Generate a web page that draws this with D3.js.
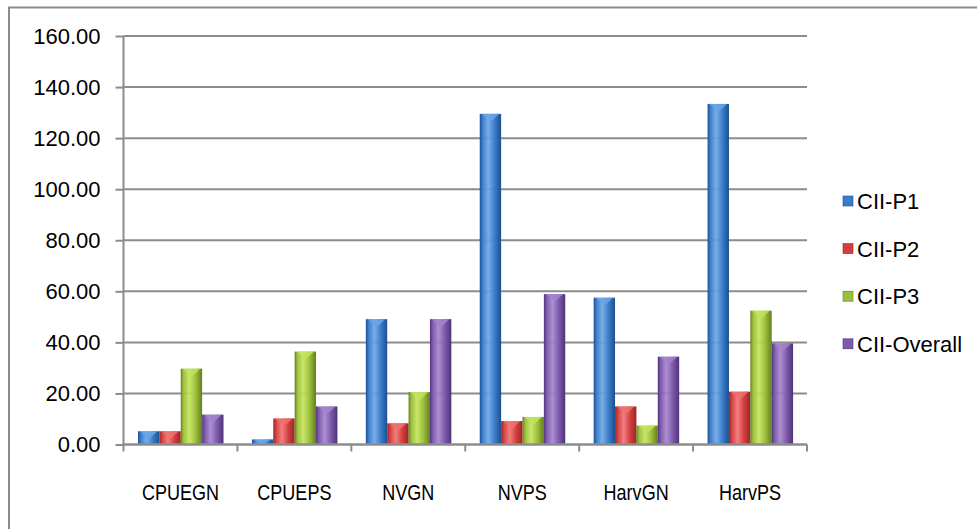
<!DOCTYPE html>
<html>
<head>
<meta charset="utf-8">
<script src="https://cdn.jsdelivr.net/npm/d3@7"></script>
<style>
  html, body { margin: 0; padding: 0; background: #ffffff; }
  svg { display: block; }
  text { font-family: "Liberation Sans", Arial, sans-serif; fill: #000; }
</style>
</head>
<body>
<svg id="chart" width="977" height="529"></svg>
<script>
// Categories along the x axis
const categories = ["CPUEGN", "CPUEPS", "NVGN", "NVPS", "HarvGN", "HarvPS"];

// Series names (legend order)
const seriesNames = ["CII-P1", "CII-P2", "CII-P3", "CII-Overall"];

// Values per series, one per category
const cIIP1 = [5.2, 2.0, 49.1, 129.5, 57.5, 133.4];
const cIIP2 = [5.2, 10.2, 8.3, 9.2, 14.9, 20.7];
const cIIP3 = [29.7, 36.4, 20.5, 10.8, 7.4, 52.4];
const cIIOverall = [11.7, 14.9, 49.1, 58.9, 34.4, 39.6];

// Y axis ticks
const yTicks = [0, 20, 40, 60, 80, 100, 120, 140, 160];

const seriesValues = [cIIP1, cIIP2, cIIP3, cIIOverall];

// Light / mid / dark tones for the cylindrical shading of each series
const palette = [
  { light: "#6aa4e6", mid: "#3b7cc8", dark: "#1d4f8f" },
  { light: "#f07070", mid: "#d33f3f", dark: "#9c2525" },
  { light: "#c3e35a", mid: "#9dbe3d", dark: "#627f1d" },
  { light: "#a283cc", mid: "#7e59ab", dark: "#4e3478" }
];

const svg = d3.select("#chart");
const gridColor = "#8c8c8c";
const fontSize = 22;

// Outer frame
svg.append("path")
  .attr("d", "M9,535 L9,7.5 L985,7.5")
  .attr("fill", "none")
  .attr("stroke", gridColor)
  .attr("stroke-width", 2);

const plot = { left: 123.5, right: 807, top: 36, bottom: 444.5 };

const x0 = d3.scaleBand().domain(categories).range([plot.left, plot.right]).padding(0);
const x1 = d3.scaleBand().domain(seriesNames).range([14.5, 100]).padding(0);
const y = d3.scaleLinear().domain([0, 160]).range([plot.bottom, plot.top]);

// Gradients
const defs = svg.append("defs");
palette.forEach((c, i) => {
  const g = defs.append("linearGradient")
    .attr("id", "bar" + i)
    .attr("x1", "0%").attr("x2", "100%").attr("y1", "0%").attr("y2", "0%");
  g.append("stop").attr("offset", "0%").attr("stop-color", c.dark);
  g.append("stop").attr("offset", "12%").attr("stop-color", c.mid);
  g.append("stop").attr("offset", "40%").attr("stop-color", c.light).attr("stop-opacity", 0.9);
  g.append("stop").attr("offset", "70%").attr("stop-color", c.mid);
  g.append("stop").attr("offset", "100%").attr("stop-color", c.dark);
});

// Tick marks and value labels
const yAxis = d3.axisLeft(y).tickValues(yTicks).tickSize(8).tickFormat(d => d.toFixed(2));
const yG = svg.append("g").attr("transform", `translate(${plot.left},0)`).call(yAxis);
yG.select(".domain").remove();
yG.selectAll(".tick line").attr("stroke", gridColor).attr("stroke-width", 2);
yG.selectAll(".tick text")
  .attr("x", -23)
  .attr("font-size", fontSize)
  .style("font-family", "'Liberation Sans', Arial, sans-serif");

// Horizontal gridlines
svg.append("g").selectAll("line")
  .data(yTicks.filter(d => d > 0))
  .join("line")
  .attr("x1", plot.left).attr("x2", plot.right)
  .attr("y1", d => y(d)).attr("y2", d => y(d))
  .attr("stroke", gridColor).attr("stroke-width", 2);

// Y axis line
svg.append("line")
  .attr("x1", plot.left).attr("x2", plot.left)
  .attr("y1", plot.top).attr("y2", plot.bottom)
  .attr("stroke", gridColor).attr("stroke-width", 2);

// Bars
const groups = svg.append("g").selectAll("g")
  .data(categories)
  .join("g")
  .attr("transform", d => `translate(${x0(d)},0)`);

groups.each(function(cat, ci) {
  const g = d3.select(this);
  seriesNames.forEach((s, si) => {
    const v = seriesValues[si][ci];
    const bx = x1(s);
    const bw = x1.bandwidth();
    const top = y(v);
    const h = y(0) - top;
    g.append("rect")
      .attr("x", bx).attr("y", top)
      .attr("width", bw).attr("height", h)
      .attr("fill", `url(#bar${si})`);
    // top highlight chevron
    const cap = Math.min(8, h);
    g.append("path")
      .attr("d", `M${bx + 2},${top} L${bx + bw - 2},${top} L${bx + bw / 2},${top + cap} Z`)
      .attr("fill", palette[si].light)
      .attr("opacity", 0.85);
  });
});

// X axis line and category boundary ticks
svg.append("line")
  .attr("x1", plot.left - 1).attr("x2", plot.right)
  .attr("y1", plot.bottom).attr("y2", plot.bottom)
  .attr("stroke", gridColor).attr("stroke-width", 2.5);

const bounds = categories.map(c => x0(c)).concat([plot.right]);
svg.append("g").selectAll("line")
  .data(bounds)
  .join("line")
  .attr("x1", d => d).attr("x2", d => d)
  .attr("y1", plot.bottom).attr("y2", plot.bottom + 7)
  .attr("stroke", gridColor).attr("stroke-width", 2);

// Category labels (horizontally condensed)
svg.append("g").selectAll("text")
  .data(categories)
  .join("text")
  .attr("transform", d => `translate(${x0(d) + x0.bandwidth() / 2},500) scale(0.82,1)`)
  .attr("text-anchor", "middle")
  .attr("font-size", fontSize)
  .text(d => d);

// Legend
const legend = svg.append("g").selectAll("g")
  .data(seriesNames)
  .join("g")
  .attr("transform", (d, i) => `translate(843,${201 + i * 47.6})`);

legend.append("rect")
  .attr("x", 0).attr("y", -5)
  .attr("width", 10).attr("height", 10)
  .attr("fill", (d, i) => palette[i].mid)
  .attr("stroke", (d, i) => palette[i].dark)
  .attr("stroke-width", 0.6);

legend.append("text")
  .attr("x", 14)
  .attr("y", 0)
  .attr("dy", "0.36em")
  .attr("font-size", fontSize)
  .text(d => d);
</script>
</body>
</html>
